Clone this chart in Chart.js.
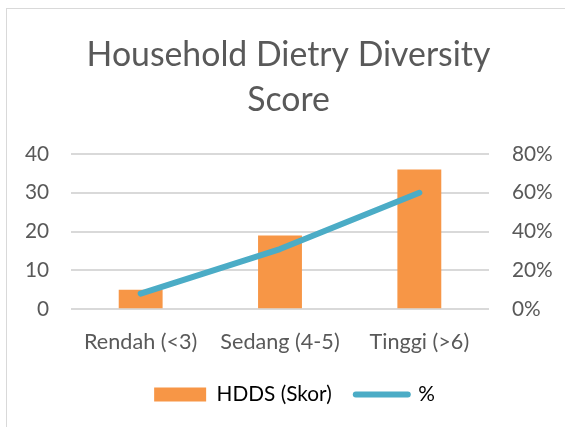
<!DOCTYPE html>
<html>
<head>
<meta charset="utf-8">
<script src="https://cdn.jsdelivr.net/npm/chart.js@4"></script>
<style>
  html, body { margin: 0; padding: 0; background: #fff; }
  #wrap { position: relative; width: 565px; height: 427px; overflow: hidden; }
  #frame { position: absolute; left: 6px; top: 8px; width: 620px; height: 500px; border: 1.5px solid #d9d9d9; box-sizing: border-box; }
  #chart { position: absolute; left: 0; top: 0; }
</style>
</head>
<body>
<div id="wrap">
  <div id="frame"></div>
  <canvas id="chart" width="565" height="427"></canvas>
</div>
<script>
// values
const categories = ['Rendah (<3)', 'Sedang (4-5)', 'Tinggi (>6)'];
const hddsScore = [5, 19, 36];
const hddsPercent = [8, 31, 60];
const seriesNames = ['HDDS (Skor)', '%'];

const textColor = '#595959';
const gridColor = '#d9d9d9';
const orange = '#f79646';
const teal = '#4bacc6';
const fontFamily = 'Lato, "Open Sans", sans-serif';
const tickFont = { family: fontFamily, size: 20.8 };

// title and legend sit a little right of the canvas centre in the original
const nudgeBoxes = {
  id: 'nudgeBoxes',
  afterLayout(chart) {
    chart.titleBlock.left += 6;
    chart.titleBlock.right += 6;
    chart.legend.left += 12;
    chart.legend.right += 12;
  }
};

const ctx = document.getElementById('chart').getContext('2d');
new Chart(ctx, {
  type: 'bar',
  data: {
    labels: categories,
    datasets: [
      {
        label: seriesNames[1],
        type: 'line',
        data: hddsPercent,
        yAxisID: 'y1',
        borderColor: teal,
        borderWidth: 6,
        borderCapStyle: 'round',
        borderJoinStyle: 'round',
        pointRadius: 0,
        tension: 0,
        order: 1
      },
      {
        label: seriesNames[0],
        data: hddsScore,
        yAxisID: 'y',
        backgroundColor: orange,
        categoryPercentage: 1,
        barPercentage: 0.315,
        order: 2
      }
    ]
  },
  plugins: [nudgeBoxes],
  options: {
    responsive: false,
    animation: false,
    devicePixelRatio: 1,
    layout: { padding: { left: 0, right: 0, top: 10, bottom: 12 } },
    plugins: {
      tooltip: { enabled: false },
      title: {
        display: true,
        text: ['Household Dietry Diversity', 'Score'],
        color: textColor,
        font: { family: fontFamily, size: 33.8, weight: 'normal', lineHeight: 1.33 },
        padding: { top: 23, bottom: 31 }
      },
      legend: {
        position: 'bottom',
        labels: {
          usePointStyle: true,
          pointStyleWidth: 52,
          boxHeight: 14,
          padding: 24,
          color: textColor,
          font: tickFont,
          generateLabels: () => [
            { text: seriesNames[0], fillStyle: orange, strokeStyle: orange, lineWidth: 0, pointStyle: 'rect', datasetIndex: 1 },
            { text: seriesNames[1], fillStyle: teal, strokeStyle: teal, lineWidth: 6, lineCap: 'round', pointStyle: 'line', datasetIndex: 0 }
          ]
        }
      }
    },
    scales: {
      x: {
        grid: { display: false },
        border: { display: false },
        ticks: { color: textColor, font: { family: fontFamily, size: 21.6 }, padding: 12, maxRotation: 0 },
        afterFit: (scale) => { scale.height = 51; }
      },
      y: {
        position: 'left',
        min: 0,
        max: 40,
        grid: { color: gridColor, lineWidth: 2, drawTicks: false },
        border: { display: false },
        ticks: { stepSize: 10, color: textColor, font: tickFont, padding: 22 },
        afterFit: (scale) => { scale.width = 71; }
      },
      y1: {
        position: 'right',
        min: 0,
        max: 80,
        grid: { drawOnChartArea: false, drawTicks: false },
        border: { display: false },
        ticks: { stepSize: 20, color: textColor, font: tickFont, padding: 23, callback: (v) => v + '%' },
        afterFit: (scale) => { scale.width = 76; }
      }
    }
  }
});
</script>
</body>
</html>
